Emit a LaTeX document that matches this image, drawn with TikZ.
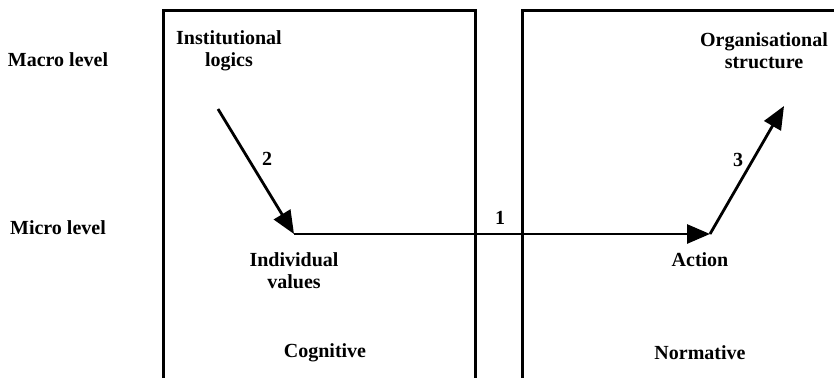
\documentclass[tikz,border=0pt]{standalone}
\usepackage{fontspec}
\setmainfont{Liberation Serif}
\usetikzlibrary{arrows.meta}
\begin{document}
\begin{tikzpicture}[x=1pt,y=-1pt,
  lbl/.style={font=\fontsize{20}{22}\selectfont\bfseries, align=center, inner sep=0pt},
  boxline/.style={line width=3pt, line join=miter},
  flow/.style={line width=2.8pt, -{Triangle[length=23pt,width=19pt]}}]
\useasboundingbox (0,0) rectangle (834,377);
\clip (0,0) rectangle (834,377);
% boxes
\draw[boxline] (163,390) -- (163,11) -- (475,11) -- (475,390);
\draw[boxline] (522,390) -- (522,11) -- (850,11);
% level labels
\node[lbl] (macro) at (58,60) {Macro level};
\node[lbl] (micro) at (58,228) {Micro level};
% concept labels
\node[lbl] (instl) at (229,51) {Institutional\\logics};
\node[lbl] (orgs) at (764,51) {Organisational\\structure};
\node[lbl] (indv) at (294,271) {Individual\\values};
\node[lbl] (act) at (700,260) {Action};
\node[lbl] (cog) at (325,353) {Cognitive};
\node[lbl] (norm) at (700,353) {Normative};
% numbers
\node[lbl] (n1) at (500,218) {1};
\node[lbl] (n2) at (267,159) {2};
\node[lbl] (n3) at (738,160) {3};
% arrow endpoints
\coordinate (pIL) at (218,109);
\coordinate (pIV) at (294,234);
\coordinate (pAC) at (710,234);
\coordinate (pOS) at (784,106);
\draw[flow] (pIL) -- (pIV);
\draw[flow] (pIV) -- (pAC);
\draw[flow] (pAC) -- (pOS);
\end{tikzpicture}
\end{document}
